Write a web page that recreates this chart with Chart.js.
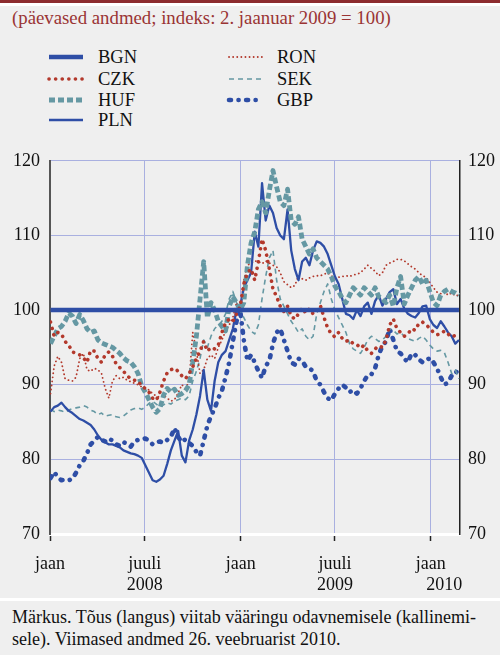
<!DOCTYPE html>
<html><head><meta charset="utf-8">
<script src="https://cdn.jsdelivr.net/npm/chart.js@4"></script>
<style>
html,body{margin:0;padding:0;background:#efefef;}
body{width:500px;height:655px;position:relative;overflow:hidden;font-family:"Liberation Serif","Times New Roman",serif;color:#111;}
#topbar{position:absolute;left:0;top:0;width:500px;height:3px;background:#8c2b2e;}
#topwhite{position:absolute;left:0;top:3px;width:500px;height:3px;background:#fff;}
#sub{position:absolute;left:12px;top:7px;font-size:18.8px;line-height:22px;color:#9a3434;white-space:nowrap;}
.leg{position:absolute;font-size:18.5px;line-height:22px;height:22px;white-space:nowrap;}
#chartbox{position:absolute;left:0;top:140px;width:500px;height:458px;}
#sep{position:absolute;left:0;top:598px;width:500px;height:3px;background:#fff;}
#note{position:absolute;left:12px;top:606px;font-size:18px;line-height:22px;white-space:nowrap;}
</style></head>
<body>
<div id="topbar"></div><div id="topwhite"></div>
<div id="sub">(päevased andmed; indeks: 2. jaanuar 2009 = 100)</div>
<div id="legend"></div>
<div id="chartbox"><canvas id="c"></canvas></div>
<div id="sep"></div>
<div id="note">Märkus. Tõus (langus) viitab vääringu odavnemisele (kallinemi-<br>sele). Viimased andmed 26. veebruarist 2010.</div>
<script>
// ---- DATA ----
const seriesNames = ["BGN","CZK","HUF","PLN","RON","SEK","GBP"];
const firstDate = "2008-01-02";   // weekly observations from this date
const axisStart = "2008-01-01";
const axisEnd = "2010-02-26";
const xTickDates = ["2008-01-01","2008-07-01","2009-01-01","2009-07-01","2010-01-01"];
const xTickLabels = [["jaan"],["juuli","2008"],["jaan"],["juuli","2009"],["jaan","      2010"]];
const yTicks = [70,80,90,100,110,120];

const BGN = [100,100,100,100,100,100,100,100,100,100, 100,100,100,100,100,100,100,100,100,100,
 100,100,100,100,100,100,100,100,100,100, 100,100,100,100,100,100,100,100,100,100,
 100,100,100,100,100,100,100,100,100,100, 100,100,100,100,100,100,100,100,100,100,
 100,100,100,100,100,100,100,100,100,100, 100,100,100,100,100,100,100,100,100,100,
 100,100,100,100,100,100,100,100,100,100, 100,100,100,100,100,100,100,100,100,100,
 100,100,100,100,100,100,100,100,100,100, 100,100,100];
const CZK = [98.4,96.5,97.0,96.8,95.8,95.3,94.4,94.2,94.0,93.6,
 93.0,94.6,94.5,93.5,93.0,94.0,94.4,93.8,92.8,92.3,
 91.8,91.2,90.8,90.6,90.5,89.8,89.5,89.0,88.2,87.9,
 89.0,90.5,91.6,92.0,92.2,91.8,91.2,90.8,91.5,92.4,
 93.5,94.5,95.8,94.5,95.0,94.8,95.3,97.0,98.3,98.8,
 98.5,99.5,100.5,103.5,105.0,105.5,104.0,106.5,109.5,108.0,
 105.5,102.8,101.8,100.5,99.8,100.5,99.2,98.8,99.5,100.3,
 99.6,100.2,99.5,99.8,100.6,99.0,97.6,96.8,96.4,97.0,
 96.2,95.8,96.0,95.5,95.4,94.9,95.3,94.5,94.2,94.8,
 95.2,95.0,96.0,98.0,98.8,97.5,97.0,96.5,96.8,97.5,
 97.3,98.2,98.4,98.0,97.6,97.0,96.7,96.8,97.2,96.8,
 96.4,96.6,96.5];
const HUF = [95.5,96.5,97.5,97.8,98.5,99.6,99.2,98.2,99.4,98.6,
 97.5,97.0,97.2,96.0,95.6,95.4,95.2,95.0,94.6,94.2,
 93.6,93.2,93.0,92.4,91.5,89.8,89.0,88.0,87.0,86.3,
 86.8,88.6,89.5,89.0,89.4,88.6,88.8,89.2,90.0,93.0,
 96.5,101.5,106.5,99.0,101.0,100.0,98.5,97.8,97.2,100.5,
 101.8,101.0,100.0,101.0,106.0,109.0,110.5,113.5,114.5,113.0,
 116.0,118.7,116.5,114.5,114.0,116.2,112.0,111.5,112.5,109.5,
 108.5,107.5,108.2,107.0,106.5,106.0,105.5,104.5,103.2,102.5,
 101.6,101.0,102.0,103.0,102.5,102.0,103.0,102.5,102.0,103.0,
 101.8,101.5,101.0,102.0,100.5,103.0,104.5,100.8,102.0,103.0,
 104.0,104.5,103.5,104.0,102.5,101.0,100.6,102.0,102.5,102.8,
 102.5,102.3,102.0];
const PLN = [86.4,87.0,87.2,87.6,87.0,86.5,86.2,85.8,85.4,85.2,
 84.9,84.6,84.0,83.2,82.6,82.3,82.0,82.0,81.8,81.6,
 81.2,81.0,80.8,80.7,80.5,80.2,79.2,78.2,77.2,77.0,
 77.3,77.8,79.4,81.2,82.5,83.8,80.5,79.6,82.5,84.0,
 86.0,88.5,92.0,88.0,86.5,90.5,93.0,94.0,94.5,96.0,
 97.5,100.0,100.3,103.0,104.0,105.0,110.5,108.5,117.0,112.0,
 114.0,113.0,111.0,110.0,109.5,113.5,108.0,105.5,104.0,106.5,
 107.0,106.0,108.0,109.2,109.0,108.5,107.5,106.0,104.5,103.5,
 101.5,99.5,99.3,98.8,100.0,99.2,100.5,101.0,99.5,101.2,
 102.0,100.6,101.5,102.4,102.8,100.8,101.5,100.2,99.5,99.2,
 99.0,99.6,100.5,100.6,98.8,98.0,97.6,98.5,97.8,97.0,
 96.5,95.5,96.0];
const RON = [88.8,92.5,93.8,93.0,90.8,90.6,90.5,91.0,93.5,94.2,
 92.0,91.8,92.2,92.0,91.5,89.5,88.2,90.5,91.2,90.8,
 91.0,90.6,90.4,90.2,90.0,89.7,89.5,89.3,88.8,88.5,
 88.3,88.6,88.2,87.8,88.0,88.9,90.0,89.5,90.5,97.0,
 94.5,91.5,92.0,93.5,94.0,93.5,95.0,96.0,97.2,98.0,
 99.0,101.0,100.0,104.0,106.0,106.3,106.6,106.5,106.2,106.6,
 106.3,106.0,105.8,105.0,103.8,103.4,103.0,103.3,104.6,104.2,
 104.0,104.3,104.5,104.6,104.6,104.8,105.0,104.6,104.2,104.4,
 104.5,104.6,104.5,104.7,104.8,105.0,105.5,106.0,105.6,105.2,
 104.6,105.0,106.0,106.3,106.5,106.8,106.8,106.6,106.2,105.8,
 105.5,105.0,104.6,104.4,103.7,103.0,102.4,102.2,102.5,102.0,
 102.3,101.9,102.0];
const SEK = [86.7,86.4,86.6,86.5,86.3,86.6,86.8,86.9,87.0,87.2,
 87.0,86.6,86.4,86.0,86.2,85.8,85.9,86.0,85.7,85.6,
 85.8,86.2,86.6,86.8,86.9,86.7,87.0,87.5,87.8,87.4,
 87.0,87.3,87.6,87.4,87.8,88.0,88.2,88.0,88.5,90.5,
 91.8,93.5,96.0,95.0,96.5,97.5,98.0,98.5,99.5,101.5,
 102.5,101.0,100.0,99.0,98.0,97.2,96.8,98.0,101.5,104.5,
 107.0,108.0,104.0,101.5,100.5,99.5,98.5,97.8,97.0,97.5,
 96.5,96.0,96.5,99.5,101.0,102.5,103.5,101.5,100.0,99.0,
 98.0,97.0,95.5,94.8,94.5,94.2,95.0,96.0,96.5,96.2,
 95.8,96.0,96.5,97.5,97.3,96.8,97.0,96.5,96.2,96.0,
 95.8,96.2,96.5,96.0,95.3,94.8,94.5,94.6,94.3,93.0,
 91.5,92.0,90.8];
const GBP = [77.5,78.3,77.6,77.2,77.3,77.2,77.4,78.2,79.2,79.8,
 80.8,82.0,82.5,83.0,82.6,82.4,82.8,82.5,82.0,81.8,
 82.3,82.1,81.7,82.4,82.6,82.7,82.8,82.5,82.0,82.3,
 82.4,82.2,82.6,83.0,84.2,83.0,82.3,82.7,82.2,81.8,
 81.0,80.5,82.5,84.5,85.8,86.8,88.2,89.2,91.0,93.0,
 95.8,98.5,100.0,96.0,93.2,94.0,93.0,91.8,90.9,92.5,
 93.2,95.5,97.0,97.5,96.0,94.5,93.0,92.7,93.5,93.2,
 92.4,92.2,91.8,90.5,90.0,89.0,88.2,87.9,88.8,89.5,
 90.0,89.6,89.0,89.3,88.8,89.5,90.5,91.3,91.4,92.2,
 94.0,95.2,95.8,97.5,96.0,94.5,94.2,93.5,93.0,94.2,
 94.0,93.4,93.0,93.2,93.6,93.0,92.2,91.0,90.0,90.3,
 91.2,91.8,91.5];

// ---- helpers ----
const DAY = 86400000;
const t0 = Date.parse(axisStart + "T00:00:00Z");
const toDay = s => Math.round((Date.parse(s + "T00:00:00Z") - t0) / DAY);
const dates = [];
{ const s = Date.parse(firstDate + "T00:00:00Z");
  for (let i = 0; i < BGN.length; i++) dates.push(new Date(s + i * 7 * DAY).toISOString().slice(0,10)); }
const xs = dates.map(toDay);
const tickDays = xTickDates.map(toDay);

const BLUE = "#2e4ea6", RED = "#b3392c", TEAL = "#6598a3";
const styles = {
  BGN: {color: BLUE, width: 4.5, dash: [], cap: "butt"},
  CZK: {color: RED, width: 3.6, dash: [0.1, 6.5], cap: "round"},
  HUF: {color: TEAL, width: 4.8, dash: [6, 3], cap: "butt"},
  PLN: {color: BLUE, width: 2.3, dash: [], cap: "butt"},
  RON: {color: RED, width: 1.8, dash: [0.1, 4], cap: "round"},
  SEK: {color: TEAL, width: 1.6, dash: [5, 4], cap: "butt"},
  GBP: {color: BLUE, width: 4.6, dash: [2, 7.5, 0.1, 7.5], cap: "round"}
};
const values = {BGN, CZK, HUF, PLN, RON, SEK, GBP};

const datasets = seriesNames.map(n => ({
  label: n,
  data: values[n].map((v, i) => ({x: xs[i], y: v})),
  borderColor: styles[n].color,
  borderWidth: styles[n].width,
  borderDash: styles[n].dash,
  borderCapStyle: styles[n].cap,
  borderJoinStyle: "round",
  pointRadius: 0,
  tension: 0,
  fill: false,
  yAxisID: "y"
}));

// ---- legend (HTML) ----
const legendPos = {
  BGN: [48, 98, 57], CZK: [48, 98, 78.5], HUF: [48, 98, 99.5], PLN: [48, 98, 120],
  RON: [228, 277, 57], SEK: [228, 277, 78.5], GBP: [228, 277, 99.5]
};
const leg = document.getElementById("legend");
seriesNames.forEach(n => {
  const [sx, tx, cy] = legendPos[n];
  const st = styles[n];
  const svgNS = "http://www.w3.org/2000/svg";
  const svg = document.createElementNS(svgNS, "svg");
  svg.setAttribute("width", 40); svg.setAttribute("height", 12);
  svg.style.position = "absolute"; svg.style.left = (sx - 2) + "px"; svg.style.top = (cy - 6) + "px";
  const ln = document.createElementNS(svgNS, "line");
  ln.setAttribute("x1", 3); ln.setAttribute("x2", 37); ln.setAttribute("y1", 6); ln.setAttribute("y2", 6);
  ln.setAttribute("stroke", st.color); ln.setAttribute("stroke-width", st.width);
  ln.setAttribute("stroke-linecap", st.cap);
  if (st.dash.length) ln.setAttribute("stroke-dasharray", st.dash.join(" "));
  svg.appendChild(ln); leg.appendChild(svg);
  const d = document.createElement("div");
  d.className = "leg"; d.textContent = n;
  d.style.left = tx + "px"; d.style.top = (cy - 11) + "px";
  leg.appendChild(d);
});

// ---- chart ----
const FONT = {family: "'Liberation Serif', 'Times New Roman', serif", size: 18};
const XFONT = {family: "'Liberation Serif', 'Times New Roman', serif", size: 18, lineHeight: 1.15};
const GRID = "#a9b0e0";
new Chart(document.getElementById("c"), {
  type: "line",
  data: {datasets},
  options: {
    responsive: true, maintainAspectRatio: false, animation: false,
    layout: {padding: {top: 17, left: 0, right: 0, bottom: 0}},
    plugins: {legend: {display: false}, tooltip: {enabled: false}},
    scales: {
      x: {
        type: "linear", min: toDay(axisStart), max: toDay(axisEnd),
        afterBuildTicks: s => { s.ticks = tickDays.map(v => ({value: v})); },
        afterFit: s => { s.height = 64; },
        ticks: {
          font: XFONT, color: "#111", padding: 13, maxRotation: 0, autoSkip: false,
          callback: (v) => { const k = tickDays.indexOf(v); return k >= 0 ? xTickLabels[k] : ""; }
        },
        grid: {color: GRID, lineWidth: 1, drawTicks: true, tickLength: 7, tickColor: "#222", tickWidth: 1.5},
        border: {color: "#ffffff", width: 3}
      },
      y: {
        position: "left", min: 70, max: 120,
        afterBuildTicks: s => { s.ticks = yTicks.map(v => ({value: v})); },
        afterFit: s => { s.width = 50; },
        ticks: {font: FONT, color: "#111", padding: 10},
        grid: {color: GRID, lineWidth: 1, drawTicks: false},
        border: {color: "#555", width: 2}
      },
      y2: {
        position: "right", min: 70, max: 120,
        afterBuildTicks: s => { s.ticks = yTicks.map(v => ({value: v})); },
        afterFit: s => { s.width = 40; },
        ticks: {font: FONT, color: "#111", padding: 8},
        grid: {drawOnChartArea: false, drawTicks: false},
        border: {color: "#222", width: 1.5}
      }
    }
  }
});
</script>
</body></html>
